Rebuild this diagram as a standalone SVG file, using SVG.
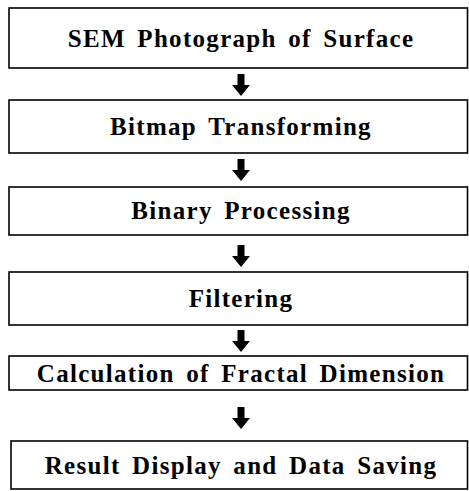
<svg xmlns="http://www.w3.org/2000/svg" width="469" height="491" viewBox="0 0 469 491">
  <style>
    .box { fill: #ffffff; stroke: #000000; stroke-width: 1.6; }
    .label { font-family: "Liberation Serif", "Times New Roman", serif; font-size: 25px; font-weight: bold; letter-spacing: 1.3px; word-spacing: 4px; text-anchor: middle; fill: #000000; }
    .arrow { fill: #000000; stroke: none; }
  </style>
  <defs>
    <!-- block down-arrow, tip at origin -->
    <path id="down" d="M -3.5 -22 L 3.5 -22 L 3.5 -11 L 9 -11 L 0 0 L -9 -11 L -3.5 -11 Z"/>
  </defs>
  <rect width="469" height="491" fill="#ffffff"/>

  <g id="connectors" class="arrow">
    <use href="#down" x="241" y="96"/>
    <use href="#down" x="241" y="181"/>
    <use href="#down" x="241" y="267"/>
    <use href="#down" x="241" y="352"/>
    <use href="#down" x="241" y="429"/>
  </g>

  <g id="sem">
    <rect class="box" x="9" y="8" width="458.5" height="60"/>
    <text class="label" x="241" y="47">SEM Photograph of Surface</text>
  </g>
  <g id="bitmap">
    <rect class="box" x="9" y="100" width="458.5" height="53"/>
    <text class="label" x="241" y="135">Bitmap Transforming</text>
  </g>
  <g id="binary">
    <rect class="box" x="9" y="187" width="458.5" height="48"/>
    <text class="label" x="241" y="219">Binary Processing</text>
  </g>
  <g id="filtering">
    <rect class="box" x="9" y="272" width="458.5" height="53"/>
    <text class="label" x="241" y="307">Filtering</text>
  </g>
  <g id="fractal">
    <rect class="box" x="9" y="356" width="458.5" height="34"/>
    <text class="label" x="241" y="382">Calculation of Fractal Dimension</text>
  </g>
  <g id="result">
    <rect class="box" x="11" y="441" width="456.5" height="48"/>
    <text class="label" x="241" y="474">Result Display and Data Saving</text>
  </g>
</svg>
